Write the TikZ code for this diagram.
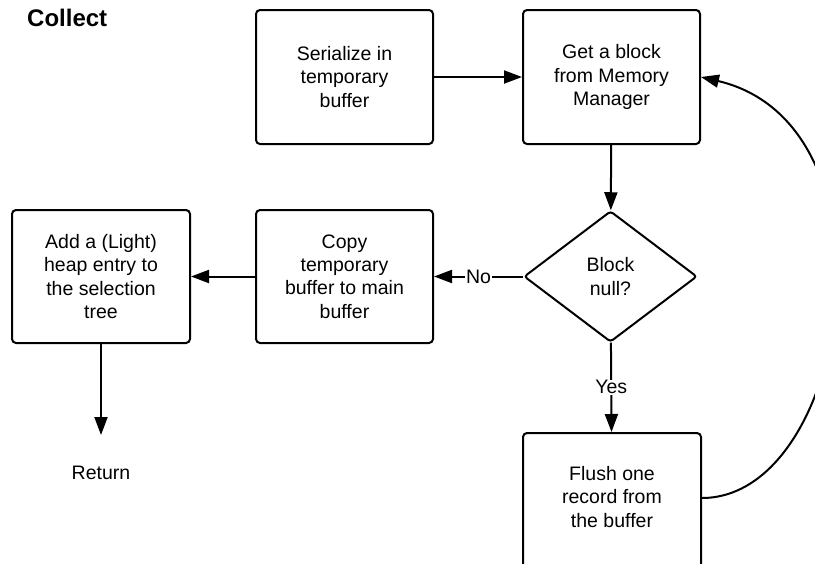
\documentclass[tikz,border=0pt]{standalone}
\usepackage{fontspec}
\setmainfont{Liberation Sans}
\usetikzlibrary{arrows.meta,shapes.geometric}

\tikzset{
  txt/.style={font=\fontsize{19.5}{23.3}\selectfont, align=center},
  box/.style={txt, draw, line width=2pt, rounded corners=4pt,
              minimum width=177pt, minimum height=134pt, inner sep=0pt},
  decision/.style={txt, draw, diamond, line width=2pt, rounded corners=3pt,
              minimum width=173pt, minimum height=131pt, inner sep=0pt},
  flow/.style={line width=2pt, -{Triangle[length=18pt,width=13pt]}},
  lbl/.style={txt, fill=white, inner sep=1pt}
}

\begin{document}
\begin{tikzpicture}[x=1pt, y=-1pt]
  \clip (0,0) rectangle (815,563);
  \fill[white] (0,0) rectangle (815,563);

  % title
  \node[anchor=west, font=\fontsize{24}{28}\selectfont\bfseries, inner sep=0pt]
    (title) at (27,18) {Collect};

  % process steps
  \node[box] (ser)  at (344.5,77)  {Serialize in\\temporary\\buffer};
  \node[box] (get)  at (611.5,77)  {Get a block\\from Memory\\Manager};
  \node[decision] (null) at (610.5,276.5) {Block\\null?};
  \node[box, minimum height=133pt] (copy) at (344.5,276.5) {Copy\\temporary\\buffer to main\\buffer};
  \node[box, minimum width=178pt, minimum height=133pt] (add) at (101,276.5)
    {Add a (Light)\\heap entry to\\the selection\\tree};
  % this box runs past the lower edge of the page
  \node[box, minimum width=178pt, minimum height=138pt] (flush) at (612,502) {};
  \node[txt] (flushtxt) at (612,497) {Flush one\\record from\\the buffer};

  % end point
  \coordinate (ret) at (101,435);
  \node[txt] (rettxt) at (101,473) {Return};

  % connectors
  \draw[flow] (ser) -- (get);
  \draw[flow] (get) -- (null);
  \draw[flow] (null) -- node[lbl] {No} (copy);
  \draw[flow] (copy) -- (add);
  \draw[flow] (add.south) -- (ret);
  \draw[flow] (null) -- node[lbl, inner sep=0.5pt] {Yes} (flush);
  \draw[flow] ([yshift=4pt]flush.east) .. controls (850,498) and (905,125) .. (get.east);
\end{tikzpicture}
\end{document}
